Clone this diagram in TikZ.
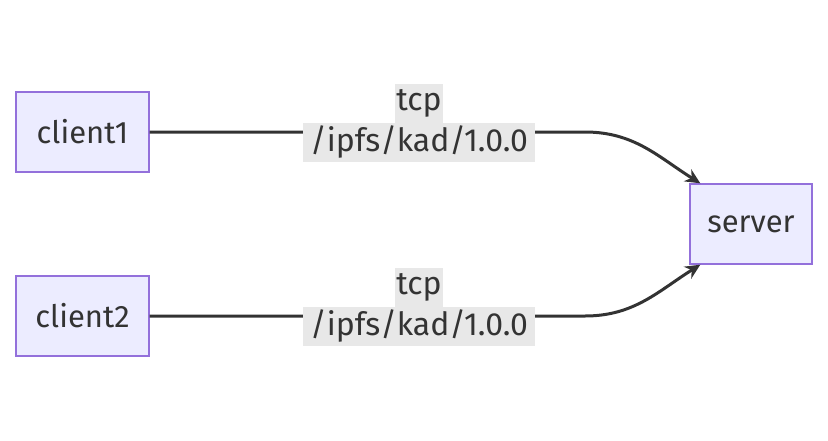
\documentclass[tikz,border=0pt]{standalone}
\usepackage{fontspec}
\setmainfont{Fira Sans}
\usetikzlibrary{arrows.meta}
\definecolor{boxfill}{HTML}{ECECFF}
\definecolor{boxline}{HTML}{9370DB}
\definecolor{ink}{HTML}{333333}
\definecolor{lblbg}{HTML}{E8E8E8}
\tikzset{
  box/.style={draw=boxline, fill=boxfill, line width=1.4pt, text=ink,
    minimum height=80pt, inner sep=0pt, font=\fontsize{31}{37}\selectfont},
  edge/.style={draw=ink, line width=3pt, -{Stealth[length=15pt,width=14pt]}},
  lbl/.style={fill=lblbg, text=ink, inner xsep=1pt, inner ysep=0pt,
    minimum height=39pt, font=\fontsize{32}{38}\selectfont},
}
\begin{document}
\begin{tikzpicture}[x=1pt, y=-1pt]
\useasboundingbox (0,0) rectangle (828,440);

\node[box, minimum width=133pt] (client1) at (82.5,132) {client1};
\node[box, minimum width=133pt] (client2) at (82.5,316) {client2};
\node[box, minimum width=122pt] (server) at (751,224) {server};

\coordinate (bend1) at (585,132);
\coordinate (bend2) at (585,316);

\draw[edge] (client1.east) -- (bend1) to[out=0, in=148] ([xshift=11pt]server.north west);
\draw[edge] (client2.east) -- (bend2) to[out=0, in=-148] ([xshift=11pt]server.south west);

% edge labels
\foreach \n/\y in {1/132, 2/316}
{
    \node[lbl, minimum width=48pt] (proto\n) at (419,\y-29) {tcp};
    \node[lbl, minimum width=232pt] (path\n) at (419,\y+10) {/ipfs/kad/1.0.0};
}
\end{tikzpicture}
\end{document}
